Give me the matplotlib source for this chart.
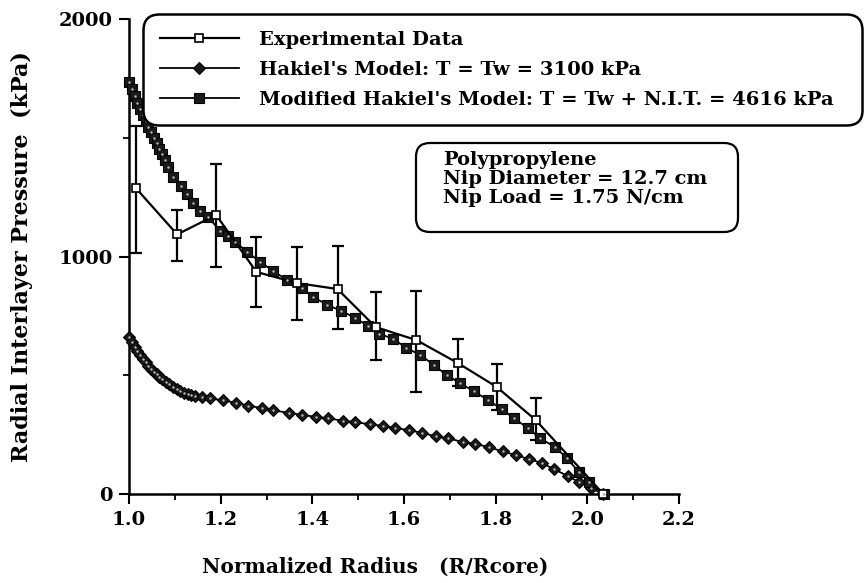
import numpy as np
import matplotlib
matplotlib.use("Agg")
import matplotlib.pyplot as plt
from matplotlib.patches import FancyBboxPatch

plt.rcParams['font.family'] = ['DejaVu Serif', 'Liberation Serif']
plt.rcParams['font.weight'] = 'bold'

# experimental data with error bars (upper / lower limits)
exp_r = [1.015, 1.105, 1.19, 1.278, 1.367, 1.455, 1.538, 1.627, 1.717, 1.802, 1.887, 2.035]
exp_p = [1288, 1093, 1175, 935, 888, 863, 703, 648, 552, 451, 312, 0]
exp_hi = [1549, 1196, 1389, 1084, 1040, 1044, 851, 855, 653, 547, 404, 0]
exp_lo = [1015, 981, 956, 787, 733, 695, 564, 429, 455, 354, 227, 0]

# Hakiel's model, T = Tw = 3100 kPa
hak_r = [1.000, 1.006, 1.012, 1.018, 1.024, 1.030, 1.036, 1.042, 1.048, 1.054,
         1.060, 1.066, 1.072, 1.080, 1.088, 1.096, 1.104, 1.112, 1.120, 1.128,
         1.136, 1.144, 1.160, 1.177, 1.205, 1.234, 1.260, 1.290, 1.315, 1.348,
         1.378, 1.407, 1.435, 1.466, 1.494, 1.525, 1.555, 1.581, 1.610, 1.640,
         1.669, 1.697, 1.728, 1.756, 1.785, 1.815, 1.844, 1.872, 1.900, 1.927,
         1.957, 1.981, 2.008, 2.034]
hak_p = [661, 640, 620, 602, 585, 568, 554, 540, 527, 515,
         504, 494, 484, 472, 462, 452, 442, 434, 427, 421,
         416, 412, 408, 403, 394, 384, 372, 362, 352, 342,
         333, 325, 318, 309, 302, 294, 286, 278, 269, 257,
         243, 234, 219, 210, 198, 179, 164, 147, 131, 105,
         76, 51, 25, 0]

# modified Hakiel's model, T = Tw + N.I.T. = 4616 kPa
mod_r = [1.000, 1.006, 1.012, 1.018, 1.024, 1.030, 1.036, 1.042, 1.048, 1.054,
         1.060, 1.066, 1.072, 1.078, 1.085, 1.096, 1.114, 1.127, 1.140, 1.155,
         1.173, 1.199, 1.216, 1.232, 1.258, 1.286, 1.315, 1.345, 1.378, 1.402,
         1.433, 1.463, 1.494, 1.522, 1.546, 1.577, 1.605, 1.636, 1.665, 1.693,
         1.722, 1.752, 1.783, 1.813, 1.839, 1.870, 1.896, 1.929, 1.955, 1.981,
         2.003, 2.036]
mod_p = [1735, 1705, 1675, 1648, 1620, 1595, 1570, 1547, 1523, 1500,
         1477, 1453, 1430, 1405, 1378, 1335, 1297, 1263, 1225, 1192,
         1166, 1107, 1086, 1061, 1019, 977, 939, 900, 867, 829,
         796, 771, 741, 707, 674, 653, 615, 585, 543, 501,
         467, 433, 396, 358, 320, 278, 236, 198, 152, 93,
         51, 0]

fig = plt.figure(figsize=(8.64, 5.83), dpi=100)
ax = fig.add_axes([129 / 864, 89 / 583, 550 / 864, 475 / 583])

exp_p = np.array(exp_p)
yerr = np.vstack([exp_p - np.array(exp_lo), np.array(exp_hi) - exp_p])
ax.errorbar(exp_r[:-1], exp_p[:-1], yerr=yerr[:, :-1], fmt='none', ecolor='black',
            elinewidth=1.6, capsize=4, capthick=1.6, zorder=2)

l_exp, = ax.plot(exp_r, exp_p, color='black', lw=1.6, marker='s', ms=6,
                 mfc='white', mec='black', mew=1.2, zorder=4, clip_on=False)
l_hak, = ax.plot(hak_r, hak_p, color='black', lw=1.3, marker='D', ms=6,
                 mfc='#1a1a1a', mec='black', mew=0.8, zorder=3, clip_on=False)
l_mod, = ax.plot(mod_r, mod_p, color='black', lw=1.3, marker='s', ms=7,
                 mfc='#1a1a1a', mec='black', mew=0.8, zorder=3, clip_on=False)
# light specks in the filled markers
ax.plot(hak_r, hak_p, ls='none', marker='.', ms=1.5, color='#bbbbbb', zorder=5, clip_on=False)
ax.plot(mod_r, mod_p, ls='none', marker='.', ms=1.5, color='#bbbbbb', zorder=5, clip_on=False)

ax.set_xlim(1.0, 2.2)
ax.set_ylim(0, 2000)
ax.set_xticks([1.0, 1.2, 1.4, 1.6, 1.8, 2.0, 2.2])
ax.set_xticks(np.arange(1.1, 2.2, 0.2), minor=True)
ax.set_yticks([0, 1000, 2000])
ax.set_yticks([500, 1500], minor=True)
ax.set_xticklabels(['1.0', '1.2', '1.4', '1.6', '1.8', '2.0', '2.2'])
ax.set_yticklabels(['0', '1000', '2000'])
ax.tick_params(axis='both', which='major', direction='out', length=7, width=1.5,
               labelsize=14, pad=5)
ax.tick_params(axis='both', which='minor', direction='out', length=4, width=1.3)
for s in ['top', 'right']:
    ax.spines[s].set_visible(False)
for s in ['left', 'bottom']:
    ax.spines[s].set_linewidth(1.8)

ax.set_xlabel('Normalized Radius   (R/Rcore)', fontsize=14.5, fontweight='bold', va='center')
ax.xaxis.set_label_coords((375 - 129) / 550, -(567 - 494) / 475)
ax.set_ylabel('Radial Interlayer Pressure  (kPa)', fontsize=16, fontweight='bold', va='center')
ax.yaxis.set_label_coords(-(129 - 22) / 550, 0.5)

leg = fig.legend([l_exp, l_hak, l_mod],
                 ['Experimental Data',
                  "Hakiel's Model: T = Tw = 3100 kPa",
                  "Modified Hakiel's Model: T = Tw + N.I.T. = 4616 kPa"],
                 loc='upper left', bbox_to_anchor=(143 / 864, 1 - 14 / 583, 719 / 864, 0.0),
                 borderaxespad=0, mode='expand', numpoints=1, handlelength=4.1,
                 handletextpad=1.0, labelspacing=0.62, borderpad=0.85, fontsize=14,
                 fancybox=True, framealpha=1, edgecolor='black')
leg.get_frame().set_linewidth(1.8)
leg.get_frame().set_boxstyle('round,pad=0,rounding_size=0.8')

# rounded frame around the sample description
fig.patches.append(FancyBboxPatch((416 / 864, 1 - 232 / 583), 322 / 864, 89 / 583,
                                  boxstyle='round,pad=0,rounding_size=0.016',
                                  mutation_aspect=864 / 583, transform=fig.transFigure,
                                  fc='white', ec='black', lw=1.6, figure=fig))
fig.text(443 / 864, 1 - 151 / 583,
         'Polypropylene\nNip Diameter = 12.7 cm\nNip Load = 1.75 N/cm',
         fontsize=14, fontweight='bold', va='top', ha='left', linespacing=1.08)

fig.savefig('out.png', dpi=100)
